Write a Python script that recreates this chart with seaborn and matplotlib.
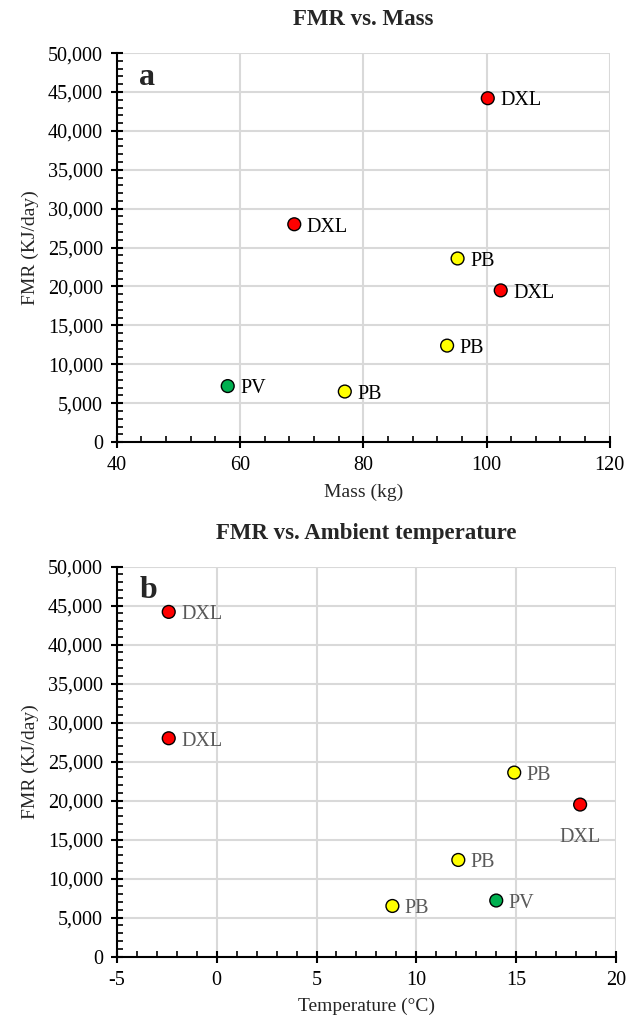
import numpy as np
import pandas as pd
import seaborn as sns
import matplotlib.pyplot as plt
from matplotlib.ticker import MultipleLocator, FuncFormatter

# data
species = ["DXL", "DXL", "PB", "DXL", "PB", "PV", "PB"]
mass_kg = [100.2, 68.8, 95.3, 102.3, 93.6, 58.0, 77.0]
temp_c = [-2.4, -2.4, 14.9, 18.2, 12.1, 14.0, 8.8]
fmr_kj = [44200, 28000, 23600, 19500, 12400, 7200, 6500]

colors = {"DXL": "#FF0000", "PB": "#FFFF00", "PV": "#00B050"}

df = pd.DataFrame({"species": species, "mass": mass_kg, "temp": temp_c, "fmr": fmr_kj})

sns.set_style("white")
plt.rcParams['font.family'] = ['Liberation Serif', 'DejaVu Serif']

fig = plt.figure(figsize=(6.28, 10.21), dpi=100)
ax1 = fig.add_axes([0.186, 0.567, 0.785, 0.381])
ax2 = fig.add_axes([0.186, 0.063, 0.795, 0.382])


def style_axis(ax, xmin, xmax, xmajor, xminor):
    ax.set_xlim(xmin, xmax)
    ax.set_ylim(0, 50000)
    ax.xaxis.set_major_locator(MultipleLocator(xmajor))
    ax.xaxis.set_minor_locator(MultipleLocator(xminor))
    ax.yaxis.set_major_locator(MultipleLocator(5000))
    ax.yaxis.set_minor_locator(MultipleLocator(1000))
    ax.yaxis.set_major_formatter(FuncFormatter(lambda v, p: f"{int(v):,}"))
    ax.xaxis.set_major_formatter(FuncFormatter(lambda v, p: f"{int(v)}"))
    ax.grid(True, which="major", color="#D9D9D9", lw=1.5)
    ax.set_axisbelow(True)
    for s in ["top", "right"]:
        ax.spines[s].set_visible(False)
    for s in ["left", "bottom"]:
        ax.spines[s].set_color("black")
        ax.spines[s].set_linewidth(1.5)
    ax.tick_params(which="major", direction="inout", length=8, width=1.5, labelsize=14.5,
                   colors="black", pad=6)
    ax.tick_params(which="minor", direction="in", length=4, width=1.2, colors="black")
    ax.tick_params(axis="x", which="both", bottom=True)
    ax.tick_params(axis="y", which="both", left=True)
    ax.set_ylabel("FMR (KJ/day)", fontsize=14, labelpad=6)


# panel a
sns.scatterplot(data=df, x="mass", y="fmr", hue="species", palette=colors, s=85,
                edgecolor="black", linewidth=1, legend=False, ax=ax1, zorder=3)
style_axis(ax1, 40, 120, 20, 4)
ax1.set_xlabel("Mass (kg)", fontsize=14, labelpad=6)
ax1.set_title("FMR vs. Mass", fontsize=16.5, fontweight="bold", pad=20)
ax1.text(0.045, 0.975, "a", transform=ax1.transAxes, fontsize=23, fontweight="bold", va="top")
for sp, x, y in zip(species, mass_kg, fmr_kj):
    ax1.annotate(sp, (x, y), xytext=(9, -2), textcoords="offset points",
                 fontsize=14.5, va="center", color="black")

# panel b
sns.scatterplot(data=df, x="temp", y="fmr", hue="species", palette=colors, s=85,
                edgecolor="black", linewidth=1, legend=False, ax=ax2, zorder=3)
style_axis(ax2, -5, 20, 5, 1)
ax2.set_xlabel("Temperature (°C)", fontsize=14, labelpad=6)
ax2.set_title("FMR vs. Ambient temperature", fontsize=16.5, fontweight="bold", pad=20)
ax2.text(0.045, 0.975, "b", transform=ax2.transAxes, fontsize=23, fontweight="bold", va="top")
for sp, x, y in zip(species, temp_c, fmr_kj):
    if x > 17:
        off, ha = (0, -24), "center"
    else:
        off, ha = (9, -2), "left"
    ax2.annotate(sp, (x, y), xytext=off, textcoords="offset points",
                 fontsize=14.5, va="center", ha=ha, color="#595959")

fig.savefig("out.png", dpi=100)
